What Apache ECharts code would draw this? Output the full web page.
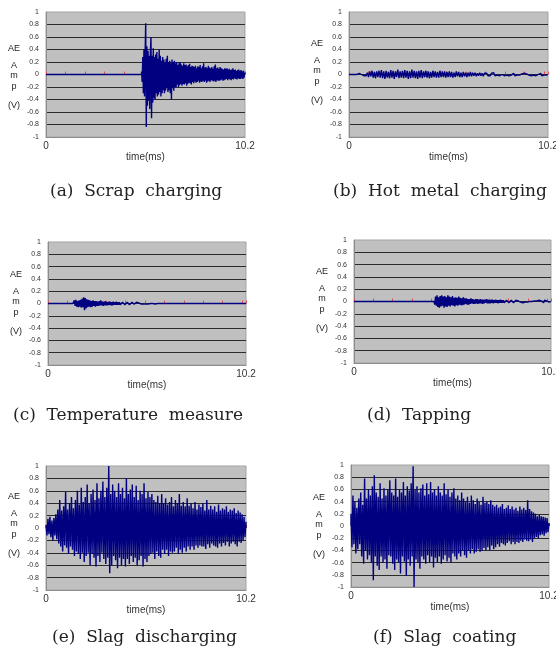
<!DOCTYPE html>
<html>
<head>
<meta charset="utf-8">
<script src="https://cdn.jsdelivr.net/npm/echarts@6/dist/echarts.min.js"></script>
<style>
  html, body { margin: 0; padding: 0; background: #fff; }
  #chart { width: 556px; height: 652px; }
</style>
</head>
<body>
<div id="chart"></div>
<script>
// 时间轴 (ms)
const timeMax = 10.2
const captions = [
  '(a)  Scrap  charging',
  '(b)  Hot  metal  charging',
  '(c)  Temperature  measure',
  '(d)  Tapping',
  '(e)  Slag  discharging',
  '(f)  Slag  coating',
]
const sideLabels = ['AE', 'A', 'm', 'p', '(V)']

// (a) Scrap charging — flat until the burst
const scrapStart = 4.9
const scrapStep = 0.03
const scrapValues = [
  0.05, -0.12, 0.28, -0.3, 0.4, -0.35, 0.32, 0.82, -0.84, 0.45,
  -0.5, 0.38, -0.42, 0.3, -0.55, 0.35, 0.6, -0.7, 0.3, -0.45,
  0.42, -0.38, 0.28, -0.4, 0.32, -0.3, 0.36, -0.35, 0.25, -0.32,
  0.4, -0.28, 0.3, -0.35, 0.22, -0.3, 0.28, -0.25, 0.24, -0.3,
  0.2, -0.26, 0.25, -0.22, 0.3, -0.28, 0.2, -0.25, 0.22, -0.3,
  0.18, -0.4, 0.24, -0.22, 0.2, -0.26, 0.22, -0.2, 0.18, -0.2,
  0.2, -0.16, 0.15, -0.2, 0.18, -0.17, 0.2, -0.15, 0.16, -0.18,
  0.14, -0.15, 0.18, -0.16, 0.15, -0.14, 0.16, -0.18, 0.13, -0.15,
  0.15, -0.13, 0.17, -0.14, 0.12, -0.16, 0.14, -0.12, 0.13, -0.14,
  0.12, -0.11, 0.14, -0.13, 0.1, -0.12, 0.13, -0.1, 0.12, -0.13,
  0.15, -0.11, 0.1, -0.12, 0.13, -0.1, 0.18, -0.12, 0.11, -0.1,
  0.12, -0.13, 0.1, -0.11, 0.14, -0.1, 0.11, -0.12, 0.1, -0.09,
  0.12, -0.1, 0.09, -0.11, 0.13, -0.1, 0.16, -0.12, 0.1, -0.09,
  0.11, -0.1, 0.09, -0.1, 0.12, -0.09, 0.1, -0.08, 0.09, -0.1,
  0.08, -0.09, 0.1, -0.08, 0.09, -0.07, 0.1, -0.09, 0.08, -0.07,
  0.09, -0.08, 0.07, -0.09, 0.08, -0.07, 0.1, -0.08, 0.07, -0.06,
  0.08, -0.07, 0.06, -0.08, 0.07, -0.06, 0.08, -0.07, 0.06, -0.07,
  0.07, -0.06, 0.05, -0.07, 0.06, -0.05, 0.03,
]

// (b) Hot metal charging
const hotMetalStart = 0.4
const hotMetalStep = 0.06
const hotMetalValues = [
  0.01, -0.01, 0.02, -0.01, 0, 0.02, -0.02, 0.01, -0.02, 0.03,
  -0.04, 0.05, -0.03, 0.06, -0.05, 0.04, -0.06, 0.05, -0.04, 0.06,
  -0.05, 0.07, -0.06, 0.05, -0.07, 0.06, -0.05, 0.04, -0.06, 0.07,
  -0.05, 0.06, -0.07, 0.05, -0.04, 0.08, -0.06, 0.05, -0.05, 0.06,
  -0.06, 0.07, -0.05, 0.06, -0.07, 0.05, -0.06, 0.08, -0.05, 0.06,
  -0.06, 0.05, -0.07, 0.06, -0.05, 0.07, -0.06, 0.05, -0.04, 0.06,
  -0.05, 0.05, -0.06, 0.04, -0.05, 0.06, -0.04, 0.05, -0.05, 0.04,
  -0.05, 0.06, -0.04, 0.05, -0.04, 0.05, -0.05, 0.04, -0.04, 0.05,
  -0.04, 0.04, -0.05, 0.03, -0.04, 0.05, -0.03, 0.04, -0.04, 0.03,
  -0.04, 0.04, -0.03, 0.03, -0.04, 0.03, -0.03, 0.04, -0.03, 0.03,
  -0.02, 0.03, -0.03, 0.02, -0.02, 0.03, -0.02, 0.02, -0.03, 0.02,
  -0.01, 0.02, -0.02, 0.01, -0.02, 0.02, -0.01, 0.03, -0.02, 0.01,
  -0.01, 0.02, -0.02, 0.01, 0, 0.02, -0.02, 0.01, -0.01, 0.02,
  -0.02, 0.01, -0.01, 0, 0.02, -0.02, 0.01, -0.01, 0.02, -0.01,
  0, 0.01, -0.02, 0.02, -0.01, 0.01, 0, -0.01, 0.02, -0.02,
  0.01, -0.01, 0.02, -0.02, 0.01, 0, -0.01, 0.02, -0.02, 0.01,
  -0.01, 0.01, -0.01, 0,
]

// (c) Temperature measure
const tempStart = 1.28
const tempStep = 0.04
const tempValues = [
  0.01, -0.03, 0.05, -0.04, 0.06, -0.05, 0.04, -0.06, 0.05, -0.05,
  0.06, -0.07, 0.08, -0.06, 0.1, -0.11, 0.09, -0.08, 0.07, -0.06,
  0.06, -0.05, 0.05, -0.06, 0.04, -0.05, 0.05, -0.04, 0.04, -0.05,
  0.04, -0.04, 0.03, -0.04, 0.04, -0.03, 0.05, -0.03, 0.03, -0.04,
  0.03, -0.03, 0.04, -0.03, 0.02, -0.03, 0.03, -0.02, 0.03, -0.03,
  0.02, -0.03, 0.03, -0.02, 0.02, -0.02, 0.03, -0.02, 0.02, -0.02,
  0.02, -0.02, 0.01, -0.02, 0.02, -0.01, 0.02, -0.02, 0.01, -0.02,
  0.02, -0.01, 0.01, -0.02, 0.01, -0.01, 0.02, -0.01, 0.01, -0.01,
  0.01, -0.01, 0.02, -0.01, 0, 0.01, -0.01, 0.01, -0.01, 0,
  0.01, -0.01, 0.01, 0, -0.01, 0.01, 0, -0.01, 0.01, 0,
  0, 0.01, -0.01, 0, 0.01, 0, -0.01, 0, 0.01, 0,
]

// (d) Tapping
const tappingStart = 4.14
const tappingStep = 0.04
const tappingValues = [
  0.02, -0.05, 0.08, -0.07, 0.1, -0.09, 0.07, -0.1, 0.09, -0.08,
  0.1, -0.07, 0.08, -0.1, 0.09, -0.08, 0.07, -0.09, 0.1, -0.07,
  0.08, -0.08, 0.07, -0.06, 0.09, -0.07, 0.06, -0.08, 0.07, -0.06,
  0.06, -0.07, 0.08, -0.05, 0.06, -0.06, 0.05, -0.06, 0.07, -0.05,
  0.05, -0.04, 0.05, -0.05, 0.04, -0.05, 0.04, -0.04, 0.05, -0.03,
  0.04, -0.04, 0.03, -0.04, 0.04, -0.03, 0.04, -0.04, 0.03, -0.03,
  0.04, -0.03, 0.03, -0.04, 0.03, -0.03, 0.03, -0.02, 0.04, -0.03,
  0.03, -0.03, 0.02, -0.03, 0.03, -0.02, 0.03, -0.03, 0.02, -0.02,
  0.03, -0.02, 0.02, -0.03, 0.02, -0.02, 0.03, -0.02, 0.02, -0.02,
  0.02, -0.02, 0.01, -0.02, 0.02, -0.01, 0.02, -0.02, 0.01, -0.02,
  0.02, -0.01, 0.01, -0.02, 0.01, -0.01, 0.02, 0, -0.01, 0.01,
  -0.01, 0.02, -0.01, 0, 0.01, -0.02, 0.01, 0, -0.01, 0.01,
  0, -0.01, 0.02, -0.01, 0, 0.01, -0.01, 0, 0.02, -0.02,
  0.01, 0, -0.01, 0.01, 0, -0.01, 0.02, -0.01, 0, 0.01,
  -0.01, 0.01, -0.02, 0.02, -0.01, 0, 0.01, -0.01, 0.02, -0.01, 0.01, 0,
]

// (e) Slag discharging
const dischargeStart = 0
const dischargeStep = 0.05
const dischargeValues = [
  0.05, -0.12, 0.15, -0.1, 0.18, -0.15, 0.12, -0.2, 0.16, -0.12,
  0.22, -0.18, 0.3, -0.25, 0.45, -0.3, 0.28, -0.38, 0.35, -0.28,
  0.58, -0.32, 0.3, -0.42, 0.4, -0.3, 0.5, -0.35, 0.32, -0.45,
  0.45, -0.38, 0.6, -0.42, 0.38, -0.5, 0.65, -0.4, 0.42, -0.55,
  0.5, -0.45, 0.7, -0.4, 0.4, -0.6, 0.55, -0.42, 0.62, -0.48,
  0.45, -0.62, 0.72, -0.45, 0.48, -0.55, 0.6, -0.4, 0.75, -0.5,
  0.5, -0.58, 0.65, -0.48, 1.0, -0.73, 0.55, -0.6, 0.7, -0.45,
  0.6, -0.52, 0.5, -0.65, 0.72, -0.48, 0.55, -0.6, 0.65, -0.5,
  0.48, -0.62, 0.8, -0.5, 0.55, -0.58, 0.62, -0.45, 0.7, -0.55,
  0.5, -0.48, 0.68, -0.6, 0.45, -0.52, 0.6, -0.45, 0.55, -0.62,
  0.72, -0.5, 0.48, -0.55, 0.58, -0.45, 0.5, -0.42, 0.55, -0.4,
  0.45, -0.5, 0.42, -0.38, 0.52, -0.45, 0.4, -0.48, 0.55, -0.35,
  0.4, -0.42, 0.48, -0.35, 0.38, -0.45, 0.42, -0.38, 0.5, -0.4,
  0.35, -0.38, 0.45, -0.32, 0.4, -0.42, 0.55, -0.35, 0.36, -0.4,
  0.42, -0.32, 0.35, -0.38, 0.48, -0.3, 0.36, -0.35, 0.4, -0.3,
  0.32, -0.35, 0.42, -0.28, 0.3, -0.32, 0.38, -0.28, 0.34, -0.3,
  0.4, -0.3, 0.28, -0.34, 0.45, -0.26, 0.3, -0.32, 0.36, -0.25,
  0.3, -0.28, 0.35, -0.3, 0.26, -0.32, 0.38, -0.25, 0.28, -0.3,
  0.32, -0.24, 0.3, -0.28, 0.35, -0.22, 0.26, -0.3, 0.3, -0.25,
  0.28, -0.22, 0.32, -0.26, 0.24, -0.3, 0.28, -0.22, 0.25, -0.24,
  0.22, -0.2, 0.18, -0.15, 0.1,
]

// (f) Slag coating
const coatingStart = 0
const coatingStep = 0.05
const coatingValues = [
  0.2, -0.35, 0.5, -0.3, 0.4, -0.45, 0.3, -0.38, 0.45, -0.3,
  0.55, -0.5, 0.35, -0.62, 0.78, -0.4, 0.45, -0.55, 0.6, -0.48,
  0.5, -0.6, 0.65, -0.89, 0.83, -0.5, 0.55, -0.65, 0.48, -0.72,
  0.7, -0.5, 0.45, -0.6, 0.62, -0.55, 0.5, -0.7, 0.6, -0.48,
  0.75, -0.5, 0.55, -0.62, 0.5, -0.72, 0.78, -0.55, 0.48, -0.6,
  0.6, -0.78, 0.55, -0.5, 0.72, -0.58, 0.5, -0.82, 0.65, -0.55,
  0.58, -0.65, 0.7, -0.5, 0.98, -1.0, 0.6, -0.55, 0.65, -0.6,
  0.55, -0.7, 0.62, -0.5, 0.68, -0.55, 0.5, -0.62, 0.7, -0.48,
  0.52, -0.6, 0.72, -0.5, 0.55, -0.68, 0.6, -0.52, 0.5, -0.6,
  0.65, -0.5, 0.55, -0.62, 0.5, -0.55, 0.7, -0.48, 0.52, -0.58,
  0.6, -0.52, 0.48, -0.6, 0.55, -0.45, 0.62, -0.5, 0.45, -0.55,
  0.5, -0.45, 0.42, -0.5, 0.55, -0.4, 0.45, -0.48, 0.4, -0.52,
  0.48, -0.4, 0.38, -0.45, 0.5, -0.38, 0.42, -0.45, 0.36, -0.42,
  0.45, -0.38, 0.4, -0.42, 0.35, -0.4, 0.48, -0.36, 0.38, -0.4,
  0.4, -0.35, 0.36, -0.4, 0.42, -0.32, 0.35, -0.38, 0.32, -0.35,
  0.35, -0.3, 0.3, -0.34, 0.32, -0.28, 0.36, -0.3, 0.28, -0.32,
  0.3, -0.28, 0.34, -0.25, 0.28, -0.3, 0.32, -0.26, 0.27, -0.3,
  0.3, -0.26, 0.25, -0.28, 0.32, -0.24, 0.27, -0.26, 0.3, -0.22,
  0.26, -0.24, 0.42, -0.25, 0.28, -0.22, 0.24, -0.26, 0.22, -0.2,
  0.2, -0.18, 0.16, -0.2, 0.18, -0.15, 0.16, -0.14, 0.15, -0.16,
  0.14, -0.12, 0.13, -0.1, 0.05,
]

// 各子图位置
const panels = [
  { left: 46, top: 12, width: 199, height: 125, labelTop: 49, capX: 50, capY: 192 },
  { left: 349, top: 12, width: 199, height: 125, labelTop: 44, capX: 333, capY: 192 },
  { left: 48, top: 242, width: 198, height: 123, labelTop: 275, capX: 13, capY: 416 },
  { left: 354, top: 240, width: 197, height: 123, labelTop: 272, capX: 367, capY: 416 },
  { left: 46, top: 466, width: 200, height: 124, labelTop: 497, capX: 52, capY: 638 },
  { left: 351, top: 465, width: 198, height: 122, labelTop: 498, capX: 373, capY: 638 },
]
const sideOffsets = [0, 17, 27, 38, 57]

function buildSeries(start, step, values) {
  const pts = [[0, 0], [start, 0]]
  values.forEach((v, i) => pts.push([+(start + i * step).toFixed(3), v]))
  pts.push([timeMax, 0])
  return pts
}

const seriesData = [
  buildSeries(scrapStart, scrapStep, scrapValues),
  buildSeries(hotMetalStart, hotMetalStep, hotMetalValues),
  buildSeries(tempStart, tempStep, tempValues),
  buildSeries(tappingStart, tappingStep, tappingValues),
  buildSeries(dischargeStart, dischargeStep, dischargeValues),
  buildSeries(coatingStart, coatingStep, coatingValues),
]

const grid = []
const xAxis = []
const yAxis = []
const series = []
const graphic = []

panels.forEach((p, i) => {
  grid.push({
    left: p.left, top: p.top, width: p.width, height: p.height,
    show: true, backgroundColor: '#c0c0c0', borderColor: '#a4a4a4', borderWidth: 1,
    containLabel: false, outerBoundsMode: 'none',
  })
  // 底部标签轴
  xAxis.push({
    gridIndex: i, type: 'value', min: 0, max: timeMax, interval: timeMax,
    axisLine: { onZero: false, lineStyle: { color: '#8c8c8c' } },
    axisTick: { show: false },
    splitLine: { show: false },
    axisLabel: { color: '#333', fontSize: 10, fontFamily: 'Liberation Sans', margin: 4 },
    name: 'time(ms)', nameLocation: 'middle', nameGap: 5,
    nameTextStyle: { color: '#333', fontSize: 10, fontFamily: 'Liberation Sans', verticalAlign: 'top' },
  })
  // 零线上的刻度
  xAxis.push({
    gridIndex: i, type: 'value', min: 0, max: timeMax, interval: 1,
    axisLine: { show: false, onZero: true },
    axisTick: { show: true, length: 3, lineStyle: { color: '#e05050' } },
    axisLabel: { show: false },
    splitLine: { show: false },
  })
  yAxis.push({
    gridIndex: i, type: 'value', min: -1, max: 1, interval: 0.2,
    axisLine: { show: true, lineStyle: { color: '#8c8c8c' } },
    axisTick: { show: false },
    axisLabel: { color: '#333', fontSize: 7, fontFamily: 'Liberation Sans', margin: 7 },
    splitLine: { show: true, showMinLine: false, showMaxLine: false, lineStyle: { color: '#2b2b2b', width: 1 } },
  })
  series.push({
    type: 'line', xAxisIndex: i * 2, yAxisIndex: i,
    data: seriesData[i], symbol: 'none', silent: true,
    lineStyle: { color: '#000080', width: 1.4 },
    z: 3,
  })
  sideLabels.forEach((t, k) => {
    graphic.push({
      type: 'text', x: p.left - 32, y: p.labelTop + sideOffsets[k],
      style: { text: t, font: '9px "Liberation Sans"', fill: '#222', textAlign: 'center', textVerticalAlign: 'middle' },
    })
  })
  graphic.push({
    type: 'text', x: p.capX, y: p.capY,
    style: { text: captions[i], font: '17px "DejaVu Serif"', fill: '#222', textAlign: 'left', textVerticalAlign: 'middle' },
  })
})

const chart = echarts.init(document.getElementById('chart'), null, { renderer: 'canvas' })
chart.setOption({
  animation: false,
  backgroundColor: '#fff',
  grid, xAxis, yAxis, series, graphic,
})
window.addEventListener('resize', () => chart.resize())
</script>
</body>
</html>
